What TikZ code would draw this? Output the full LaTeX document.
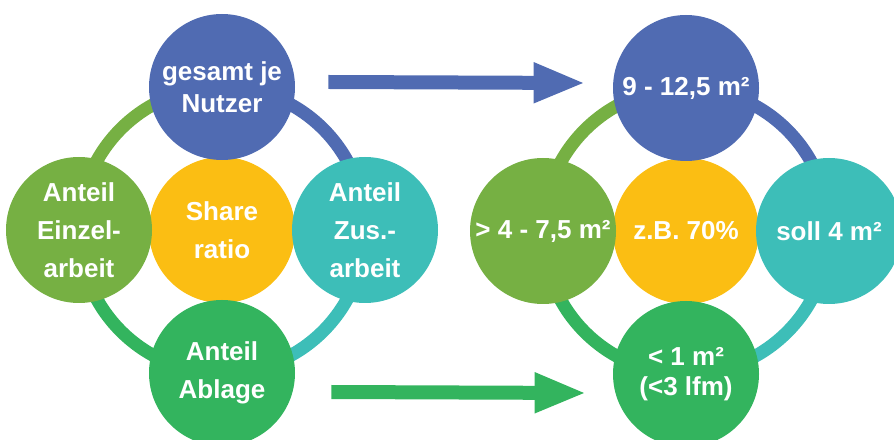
\documentclass[tikz,border=0pt]{standalone}
\usepackage{fontspec}
\setmainfont{Liberation Sans}
\usepackage{tikz}
\usetikzlibrary{positioning,arrows.meta}
\definecolor{myblue}{HTML}{506BB2}
\definecolor{mylightgreen}{HTML}{76B043}
\definecolor{myteal}{HTML}{3DBEB8}
\definecolor{mygreen}{HTML}{33B45E}
\definecolor{myyellow}{HTML}{FBBE13}

\begin{document}
\begin{tikzpicture}[x=1pt, y=1pt, node distance={143pt}, thick,
    main/.style = {circle, fill, text=white, minimum size=146pt, inner sep=0pt, align=center, font=\bfseries\fontsize{26}{38}\selectfont},
    ring/.style = {line width=13pt},
    bigarrow/.style = {line width=14pt, -{Triangle[length=52pt, width=37pt]}}]
		\useasboundingbox (0,0) rectangle (894,439);

		% rings behind the circles
		\foreach \cx/\cy in {222/209, 686/208} {
			\draw[ring, color=mylightgreen] (\cx,\cy) ++(180:143) arc[start angle=180, end angle=90, radius=143];
			\draw[ring, color=myblue] (\cx,\cy) ++(90:143) arc[start angle=90, end angle=0, radius=143];
			\draw[ring, color=myteal] (\cx,\cy) ++(0:143) arc[start angle=360, end angle=270, radius=143];
			\draw[ring, color=mygreen] (\cx,\cy) ++(270:143) arc[start angle=270, end angle=180, radius=143];
		}

		% left group
		\node[main] (share) [fill=myyellow] at (222,209) {Share\\ratio};
		\node[main] (nutzer) [above of=share, fill=myblue, font=\bfseries\fontsize{26}{32}\selectfont] {gesamt je\\Nutzer};
		\node[main] (einzel) [left of=share, fill=mylightgreen] {Anteil\\Einzel-\\arbeit};
		\node[main] (zus) [right of=share, fill=myteal] {Anteil\\Zus.-\\arbeit};
		\node[main] (ablage) [below of=share, fill=mygreen] {Anteil\\Ablage};

		% right group
		\node[main] (quote) [fill=myyellow] at (686,208) {z.B. 70\%};
		\node[main] (gesamt) [above of=quote, fill=myblue] {9 - 12,5 m²};
		\node[main] (einzelqm) [left of=quote, fill=mylightgreen] {> 4 - 7,5 m²};
		\node[main] (zusqm) [right of=quote, fill=myteal] {soll 4 m²};
		\node[main] (ablageqm) [below of=quote, fill=mygreen, font=\bfseries\fontsize{26}{30}\selectfont] {< 1 m²\\(<3 lfm)};

		\draw[bigarrow, color=myblue] ([xshift=33pt, yshift=5pt]nutzer.east) -- ([xshift=-27pt, yshift=5pt]gesamt.west);
		\draw[bigarrow, color=mygreen] ([xshift=36pt, yshift=-19pt]ablage.east) -- ([xshift=-26pt, yshift=-19pt]ablageqm.west);
	\end{tikzpicture}
\end{document}
